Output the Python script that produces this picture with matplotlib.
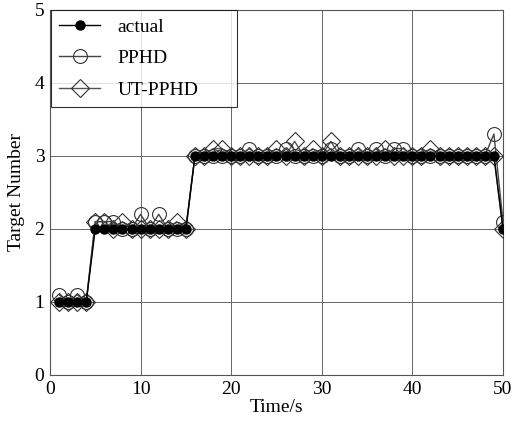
import numpy as np
import matplotlib
matplotlib.use("Agg")
import matplotlib.pyplot as plt

plt.rcParams['font.family'] = ['Liberation Serif', 'DejaVu Serif']

time = list(range(1, 51))

actual = [1, 1, 1, 1] + [2] * 11 + [3] * 34 + [2]

pphd = [1.1, 1, 1.1, 1,
        2.1, 2.1, 2.1, 2, 2, 2.2, 2, 2.2, 2, 2, 2,
        3, 3, 3, 3, 3, 3, 3.1, 3, 3, 3, 3.1, 3, 3, 3, 3,
        3.1, 3, 3, 3.1, 3, 3.1, 3, 3.1, 3.1, 3, 3, 3, 3, 3, 3, 3, 3, 3, 3.3,
        2.1]

ut_pphd = [1, 1, 1, 1,
           2.1, 2.1, 2, 2.1, 2, 2, 2, 2, 2, 2.1, 2,
           3, 3, 3.1, 3.1, 3, 3, 3, 3, 3, 3.1, 3, 3.2, 3, 3.1, 3,
           3.2, 3, 3, 3, 3, 3, 3.1, 3, 3, 3, 3, 3.1, 3, 3, 3, 3, 3, 3, 3,
           2]

x_ticks = [0, 10, 20, 30, 40, 50]
y_ticks = [0, 1, 2, 3, 4, 5]

fig = plt.figure(figsize=(5.18, 4.29), dpi=100)
ax = fig.add_axes([0.0965, 0.126, 0.8745, 0.851])

ax.plot(time, ut_pphd, color='#555555', lw=1.0, marker='D', markersize=9,
        markerfacecolor='none', markeredgecolor='#333333', markeredgewidth=0.8,
        label='UT-PPHD', zorder=3)
ax.plot(time, pphd, color='#444444', lw=1.0, marker='o', markersize=10,
        markerfacecolor='none', markeredgecolor='#333333', markeredgewidth=0.8,
        label='PPHD', zorder=4)
ax.plot(time, actual, color='black', lw=1.0, marker='o', markersize=6.5,
        markerfacecolor='black', markeredgecolor='black',
        label='actual', zorder=5)

ax.set_xlim(0, 50)
ax.set_ylim(0, 5)
ax.set_xticks(x_ticks)
ax.set_yticks(y_ticks)
ax.tick_params(length=0, labelsize=14, pad=4)
ax.grid(True, color='#666666', lw=0.7)
ax.set_axisbelow(True)
for s in ax.spines.values():
    s.set_color('#555555')
    s.set_linewidth(0.8)

ax.set_xlabel('Time/s', fontsize=14, labelpad=1)
ax.set_ylabel('Target Number', fontsize=14, labelpad=7)

handles, labels = ax.get_legend_handles_labels()
order = [2, 1, 0]
leg = ax.legend([handles[i] for i in order], [labels[i] for i in order],
                loc='upper left', bbox_to_anchor=(0.003, 0.6, 0.41, 0.399),
                mode='expand', fontsize=14,
                frameon=True, fancybox=False, edgecolor='black',
                handlelength=2.1, borderaxespad=0.0, labelspacing=0.72,
                borderpad=0.4, handletextpad=0.9)
leg.get_frame().set_linewidth(0.8)

fig.savefig('out.png', dpi=100)
